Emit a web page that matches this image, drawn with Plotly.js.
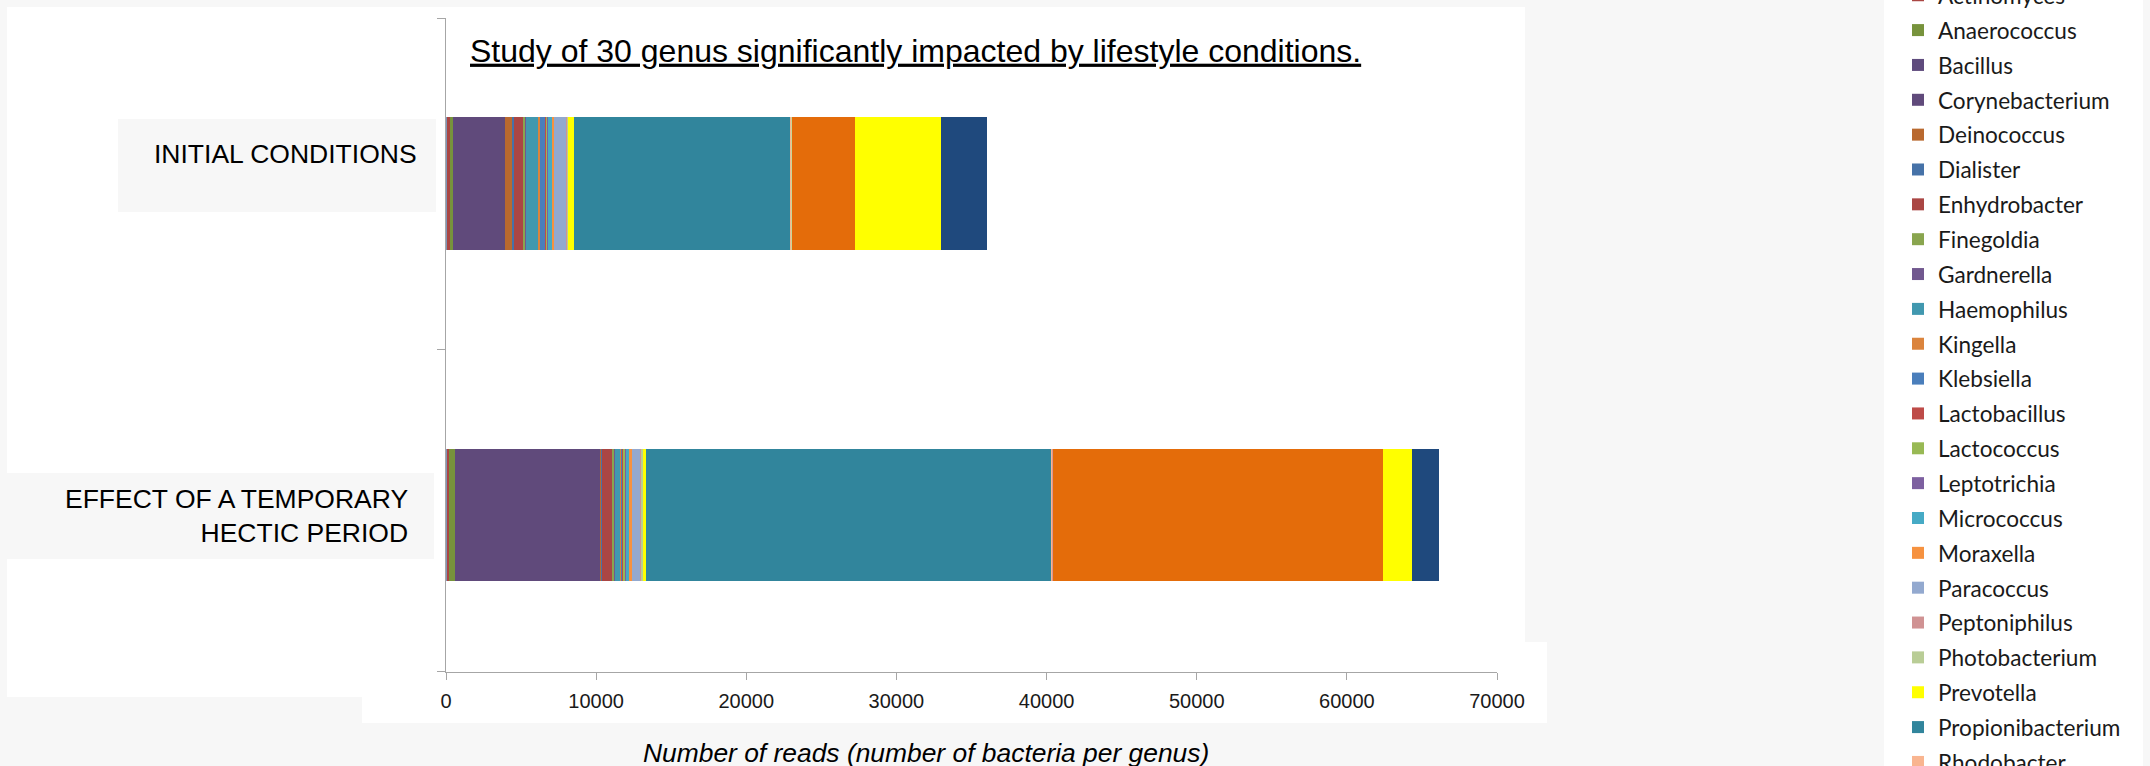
<!DOCTYPE html>
<html>
<head>
<meta charset="utf-8">
<script src="https://cdn.plot.ly/plotly-3.0.1.min.js"></script>
<style>
  html, body { margin: 0; padding: 0; background: #f7f7f7; overflow: hidden; }
  #chart { width: 2150px; height: 766px; }
</style>
</head>
<body>
<div id="chart"></div>
<script>
// ---------- DATA ----------
const categories = ["INITIAL CONDITIONS", "EFFECT OF A TEMPORARY HECTIC PERIOD"];
const categoryLabels = ["INITIAL CONDITIONS", "EFFECT OF A TEMPORARY<br>HECTIC PERIOD"];

const genera = [
  "Acinetobacter", "Actinomyces", "Anaerococcus", "Bacillus", "Corynebacterium",
  "Deinococcus", "Dialister", "Enhydrobacter", "Finegoldia", "Gardnerella",
  "Haemophilus", "Kingella", "Klebsiella", "Lactobacillus", "Lactococcus",
  "Leptotrichia", "Micrococcus", "Moraxella", "Paracoccus", "Peptoniphilus",
  "Photobacterium", "Prevotella", "Propionibacterium", "Rhodobacter", "Rothia",
  "Serratia", "Sphingomonas", "Staphylococcus", "Streptococcus", "Veillonella"
];

// reads per genus, INITIAL CONDITIONS
const initialReads = [
  80, 180, 250, 56, 3350,
  530, 110, 620, 90, 40,
  870, 110, 330, 60, 60,
  60, 300, 130, 800, 50,
  40, 440, 14410, 30, 20,
  10, 20, 4200, 5730, 3060
];

// reads per genus, EFFECT OF A TEMPORARY HECTIC PERIOD
const hecticReads = [
  50, 170, 400, 40, 9660,
  30, 20, 690, 150, 60,
  300, 150, 60, 60, 120,
  60, 220, 120, 620, 60,
  80, 190, 27050, 40, 20,
  10, 30, 21930, 1960, 1800
];

const genusColors = [
  "#8095b8", "#aa4643", "#77933c", "#5f4b7d", "#604a7b",
  "#b9692f", "#4672a8", "#aa4644", "#89a54e", "#71588f",
  "#4198af", "#db843d", "#4a7ebb", "#be4b48", "#98b954",
  "#7d60a0", "#46aac5", "#f69240", "#93a9cf", "#d09293",
  "#b9cd96", "#ffff00", "#31859c", "#f9b590", "#a6b9db",
  "#d99694", "#c4d79b", "#e46c0a", "#ffff00", "#1f497d"
];

const xTickValues = [0, 10000, 20000, 30000, 40000, 50000, 60000, 70000];
const xTickLabels = ["0", "10000", "20000", "30000", "40000", "50000", "60000", "70000"];

const chartTitle = "Study of 30 genus significantly impacted by lifestyle conditions.";
const xAxisTitle = "Number of reads (number of bacteria per genus)";

// ---------- LAYOUT HELPERS (pixel geometry of the picture) ----------
const W = 2150, H = 766;
const M = { l: 446, r: 653, t: 18, b: 94 };
const PW = W - M.l - M.r, PH = H - M.t - M.b;
const px = p => (p - M.l) / PW;          // pixel x -> paper x
const py = p => (H - M.b - p) / PH;      // pixel y -> paper y

function rect(x0, y0, x1, y1, color) {
  return { type: "rect", xref: "paper", yref: "paper", layer: "below",
    x0: px(x0), x1: px(x1), y0: py(y1), y1: py(y0),
    fillcolor: color, line: { width: 0 } };
}

// ---------- TRACES ----------
const traces = genera.map((g, i) => ({
  type: "bar",
  orientation: "h",
  name: g,
  legendgroup: g,
  y: categories,
  x: [initialReads[i], hecticReads[i]],
  marker: { color: genusColors[i], line: { width: 0 } },
  hovertemplate: "%{y}<br>" + g + ": %{x}<extra></extra>"
}));

const labelRight = [419, 410];
const labelShift = [29.7, -1.5];
const annotations = categories.map((c, i) => ({
  xref: "paper", yref: "y", x: px(labelRight[i]), y: c,
  xanchor: "right", yanchor: "middle", align: "right", yshift: labelShift[i],
  text: categoryLabels[i], showarrow: false,
  font: { family: "Liberation Sans, Arial, sans-serif", size: 26.5, color: "#000000" }
}));
annotations.push({
  xref: "paper", yref: "paper", x: px(926), y: py(753),
  xanchor: "center", yanchor: "middle", showarrow: false,
  text: xAxisTitle,
  font: { family: "Liberation Sans, Arial, sans-serif", size: 26.4, color: "#000000", style: "italic" }
});

const catSpan = 1.974;   // visible category span of the y axis
const legendFont = 22.6;
const layout = {
  width: W, height: H,
  margin: { l: M.l, r: M.r, t: M.t, b: M.b, pad: 0, autoexpand: false },
  paper_bgcolor: "#f7f7f7",
  plot_bgcolor: "rgba(0,0,0,0)",
  barmode: "stack",
  bargap: 0.6,
  title: {
    text: "<u>" + chartTitle + "</u>",
    xref: "container", yref: "container",
    x: 470 / W, xanchor: "left",
    y: 1 - 50.5 / H, yanchor: "middle",
    font: { family: "Liberation Sans, Arial, sans-serif", size: 32, color: "#000000" }
  },
  xaxis: {
    range: [0, 70000],
    tickmode: "array", tickvals: xTickValues, ticktext: xTickLabels,
    ticks: "outside", ticklen: 7, tickwidth: 1, tickcolor: "#a6a6a6",
    ticklabelstandoff: 4,
    showline: true, linecolor: "#a6a6a6", linewidth: 1,
    showgrid: false, zeroline: false,
    tickfont: { family: "Liberation Sans, Arial, sans-serif", size: 20, color: "#1a1a1a" }
  },
  yaxis: {
    type: "category",
    range: [-0.5 + catSpan, -0.5],
    tickmode: "array", tickvals: [-0.5, 0.5, -0.5 + catSpan - 0.001],
    ticks: "outside", ticklen: 8, tickwidth: 1, tickcolor: "#a6a6a6",
    showline: true, linecolor: "#a6a6a6", linewidth: 1,
    showgrid: false, zeroline: false, showticklabels: false
  },
  legend: {
    xref: "container", x: 1898 / W, xanchor: "left",
    yref: "paper", y: 1 + (M.t + 60.8) / PH, yanchor: "top",
    traceorder: "grouped", tracegroupgap: 34.85 - (1.3 * legendFont + 3),
    maxheight: 5000,
    bgcolor: "rgba(0,0,0,0)", borderwidth: 0,
    font: { family: "Lato, 'Open Sans', sans-serif", size: legendFont, color: "#1a1a1a" }
  },
  shapes: [
    rect(7, 7, 1525, 642, "#ffffff"),
    rect(7, 642, 362, 697, "#ffffff"),
    rect(362, 642, 1547, 723, "#ffffff"),
    rect(1884, -10, 2143, 776, "#ffffff"),
    rect(118, 119, 436, 212, "#f7f7f7"),
    rect(7, 473, 434, 559, "#f7f7f7")
  ],
  annotations: annotations,
  showlegend: true
};

Plotly.newPlot("chart", traces, layout, { displayModeBar: false });
</script>
</body>
</html>
